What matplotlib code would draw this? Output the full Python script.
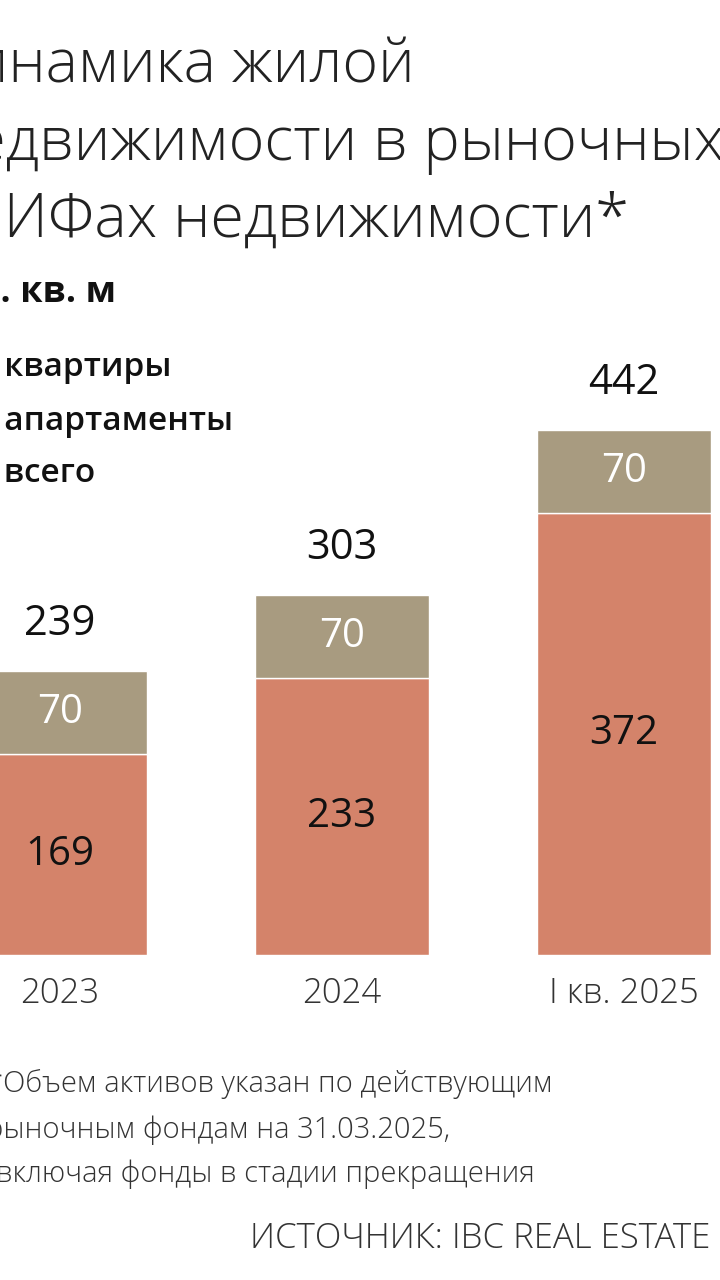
import matplotlib.pyplot as plt

categories = ["2023", "2024", "I кв. 2025"]
flats = [169, 233, 372]
apartments = [70, 70, 70]
totals = [239, 303, 442]

c_flat = "#D4836A"
c_apt = "#A89B80"
font = "Open Sans"

fig = plt.figure(figsize=(7.2, 12.8), dpi=100)
fig.patch.set_facecolor("white")
ax = fig.add_axes([0, 0.254, 1, 0.746])
ax.set_xlim(-60 / 282, (720 - 60) / 282)
ax.set_ylim(0, 955 / 1.188)
ax.axis("off")

x = list(range(len(categories)))
w = 0.62
ax.bar(x, flats, width=w, color=c_flat, edgecolor="white", linewidth=1)
ax.bar(x, apartments, width=w, bottom=flats, color=c_apt, edgecolor="white", linewidth=1)
for i in x:
    ax.text(i, flats[i] / 2, str(flats[i]), ha="center", va="center",
            fontsize=29, color="#111111", family=font)
    ax.text(i, flats[i] + apartments[i] / 2, str(apartments[i]), ha="center", va="center",
            fontsize=29, color="white", family=font)
    ax.text(i, totals[i] + 22, str(totals[i]), ha="center", va="bottom",
            fontsize=30, color="#111111", family=font)
    ax.text(i, -18, categories[i], ha="center", va="top",
            fontsize=25, color="#333333", family=font, fontweight="light")

fig.canvas.draw()
r = fig.canvas.get_renderer()


def cut_text(prefix, visible, x_px, y_px, **kw):
    # place full text so that the visible part starts at x_px (cropped on the left)
    t = fig.text(0, 0, prefix, **kw)
    pw = t.get_window_extent(r).width
    t.remove()
    fig.text((x_px - pw) / 720, 1 - y_px / 1280, prefix + visible, va="baseline", **kw)


title = dict(fontsize=44, color="#222222", family=font, fontweight="light")
cut_text("Ди", "намика жилой", 8, 82, **title)
cut_text("не", "движимости в рыночных", 6, 160, **title)
cut_text("ЗП", "ИФах недвижимости*", 4, 237, **title)

cut_text("тыс", ". кв. м", 0, 302, fontsize=26, color="#111111", family=font, fontweight="bold")

leg = dict(fontsize=24, color="#111111", family=font, fontweight="semibold")
cut_text("■  ", "квартиры", 4, 376, **leg)
cut_text("■  ", "апартаменты", 4, 430, **leg)
cut_text("—  ", "всего", 4, 482, **leg)

note = dict(fontsize=21, color="#333333", family=font, fontweight="light")
cut_text("*Об", "ъем активов указан по действующим", 42, 1092, **note)
cut_text("рын", "очным фондам на 31.03.2025,", 42, 1138, **note)
cut_text("вкл", "ючая фонды в стадии прекращения", 42, 1182, **note)
fig.text(250 / 720, 1 - 1248 / 1280, "ИСТОЧНИК: IBC REAL ESTATE", fontsize=25,
         color="#333333", family=font, fontweight="light", va="baseline")

fig.savefig("out.png", dpi=100)
